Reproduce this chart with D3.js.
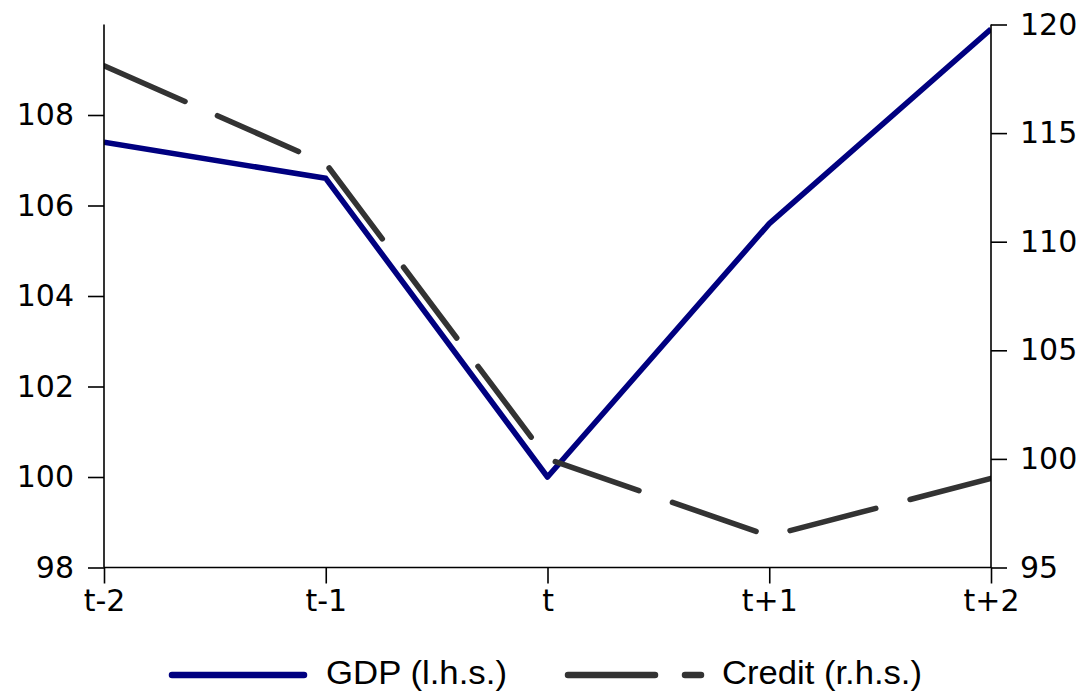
<!DOCTYPE html>
<html><head><meta charset="utf-8">
<script src="https://cdn.jsdelivr.net/npm/d3@7"></script>
<style>
html,body{margin:0;padding:0;background:#fff;}
svg{display:block;}
.axis text{font-family:"DejaVu Sans",sans-serif;font-size:30px;fill:#000;}
.axis path,.axis line{stroke:#000;stroke-width:1.6px;}
.legend text{font-family:"Liberation Sans",Arial,sans-serif;font-size:33px;fill:#000;}
</style></head>
<body>
<script>
const categories = ["t-2","t-1","t","t+1","t+2"];
const gdp = [107.4, 106.6, 100, 105.6, 109.9];
const credit = [118.1, 113.6, 100.0, 96.45, 99.1];
const leftTicks = [98,100,102,104,106,108];
const rightTicks = [95,100,105,110,115,120];

const W = 1083, H = 694;
const m = {left:104, right:1083-991, top:24.5, bottom:694-567.5};
const svg = d3.select("body").append("svg").attr("width",W).attr("height",H);

const x = d3.scalePoint().domain(categories).range([m.left, W-m.right]);
const yL = d3.scaleLinear().domain([98,110]).range([H-m.bottom, m.top]);
const yR = d3.scaleLinear().domain([95,120]).range([H-m.bottom, m.top]);

svg.append("defs").append("clipPath").attr("id","clip")
  .append("rect").attr("x",m.left).attr("y",m.top-10).attr("width",W-m.left-m.right).attr("height",H-m.bottom-m.top+10);

const plot = svg.append("g").attr("clip-path","url(#clip)");
const lineL = d3.line().x((d,i)=>x(categories[i])).y(d=>yL(d));
const lineR = d3.line().x((d,i)=>x(categories[i])).y(d=>yR(d));

plot.append("path").datum(gdp).attr("d",lineL)
  .attr("fill","none").attr("stroke","#000080").attr("stroke-width",5.6)
  .attr("stroke-linejoin","round").attr("stroke-linecap","butt");
plot.append("path").datum(credit).attr("d",lineR)
  .attr("fill","none").attr("stroke","#333333").attr("stroke-width",5.6)
  .attr("stroke-linejoin","round").attr("stroke-linecap","round")
  .attr("stroke-dasharray","88.5,35.5");

// axes
const gx = svg.append("g").attr("class","axis").attr("transform",`translate(0,${H-m.bottom})`)
  .call(d3.axisBottom(x).tickSize(16).tickPadding(6));
const gl = svg.append("g").attr("class","axis").attr("transform",`translate(${m.left},0)`)
  .call(d3.axisLeft(yL).tickValues(leftTicks).tickFormat(d3.format("d")).tickSize(16).tickPadding(14));
const gr = svg.append("g").attr("class","axis").attr("transform",`translate(${W-m.right},0)`)
  .call(d3.axisRight(yR).tickValues(rightTicks).tickFormat(d3.format("d")).tickSize(16).tickPadding(13));
gx.select(".domain").remove(); gl.select(".domain").remove(); gr.select(".domain").remove();
svg.append("line").attr("x1",m.left).attr("x2",W-m.right).attr("y1",H-m.bottom).attr("y2",H-m.bottom).attr("stroke","#000").attr("stroke-width",1.6);
svg.append("line").attr("x1",m.left).attr("x2",m.left).attr("y1",m.top).attr("y2",H-m.bottom).attr("stroke","#000").attr("stroke-width",1.6);
svg.append("line").attr("x1",W-m.right).attr("x2",W-m.right).attr("y1",m.top).attr("y2",H-m.bottom).attr("stroke","#000").attr("stroke-width",1.6);

// legend
const lg = svg.append("g").attr("class","legend");
const ly = 675;
lg.append("line").attr("x1",172).attr("x2",304).attr("y1",ly).attr("y2",ly)
  .attr("stroke","#000080").attr("stroke-width",6.5).attr("stroke-linecap","round");
lg.append("text").attr("x",326).attr("y",ly+9).attr("textLength",181).attr("lengthAdjust","spacingAndGlyphs").text("GDP (l.h.s.)");
lg.append("line").attr("x1",568).attr("x2",701).attr("y1",ly).attr("y2",ly)
  .attr("stroke","#333333").attr("stroke-width",6.5).attr("stroke-linecap","round")
  .attr("stroke-dasharray","87,30");
lg.append("text").attr("x",722).attr("y",ly+9).attr("textLength",200).attr("lengthAdjust","spacingAndGlyphs").text("Credit (r.h.s.)");
</script>
</body></html>
